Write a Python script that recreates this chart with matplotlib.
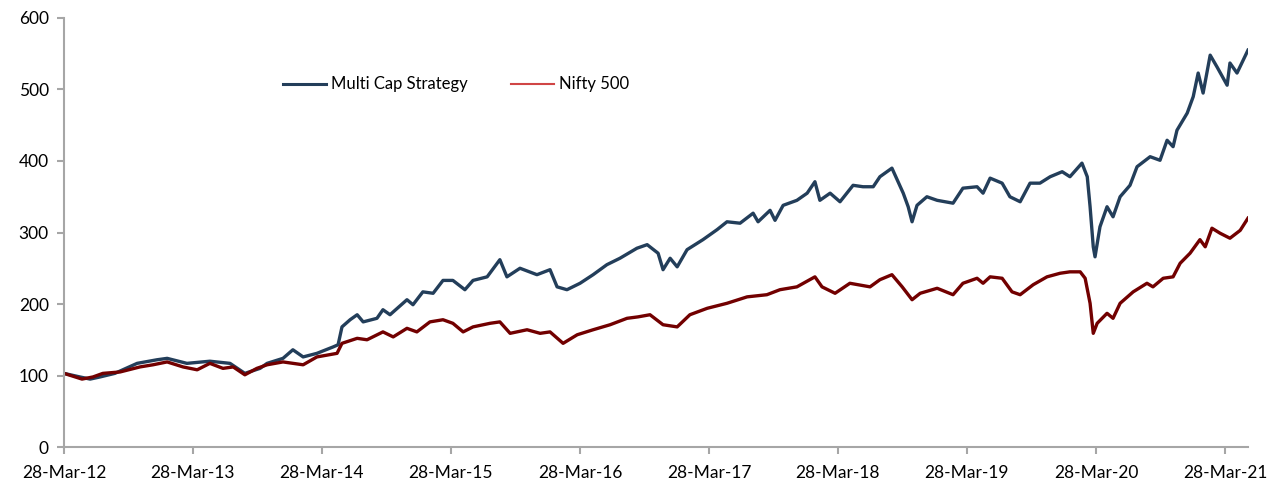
import matplotlib
matplotlib.use('Agg')
import matplotlib.pyplot as plt
import matplotlib.dates as mdates
from matplotlib.lines import Line2D
import pandas as pd

#Here we set the style of the plots
plt.rc('font', family=['Lato', 'DejaVu Sans'])
plt.rc('xtick', labelsize=12.5)
plt.rc('ytick', labelsize=12.5)

#Multi Cap Strategy
mc_dates = ['2012-03-28', '2012-05-12', '2012-06-10', '2012-07-08', '2012-08-19', '2012-10-21',
            '2012-12-16', '2013-01-14', '2013-03-11', '2013-05-15', '2013-07-11', '2013-08-22',
            '2013-10-04', '2013-10-24', '2013-12-08', '2014-01-05', '2014-02-03', '2014-03-14',
            '2014-04-29', '2014-05-13', '2014-05-24', '2014-06-16', '2014-07-06', '2014-07-23',
            '2014-08-31', '2014-09-17', '2014-10-07', '2014-11-24', '2014-12-11', '2015-01-08',
            '2015-02-06', '2015-03-06', '2015-04-03', '2015-05-07', '2015-05-30', '2015-07-09',
            '2015-08-14', '2015-09-03', '2015-10-10', '2015-11-27', '2016-01-03', '2016-01-23',
            '2016-02-20', '2016-03-28', '2016-05-04', '2016-06-12', '2016-07-19', '2016-09-05',
            '2016-10-04', '2016-11-04', '2016-11-18', '2016-12-08', '2016-12-28', '2017-01-25',
            '2017-03-11', '2017-04-20', '2017-05-18', '2017-06-24', '2017-07-31', '2017-08-14',
            '2017-09-17', '2017-10-01', '2017-10-24', '2017-12-02', '2017-12-31', '2018-01-22',
            '2018-02-05', '2018-03-06', '2018-04-03', '2018-05-10', '2018-06-07', '2018-07-06',
            '2018-07-25', '2018-08-28', '2018-09-29', '2018-10-13', '2018-10-24', '2018-11-07',
            '2018-12-05', '2019-01-03', '2019-02-17', '2019-03-17', '2019-04-26', '2019-05-13',
            '2019-06-02', '2019-07-06', '2019-07-28', '2019-08-26', '2019-09-23', '2019-10-21',
            '2019-11-19', '2019-12-23', '2020-01-14', '2020-02-17', '2020-03-03', '2020-03-11',
            '2020-03-20', '2020-03-25', '2020-04-08', '2020-04-28', '2020-05-15', '2020-06-04',
            '2020-07-02', '2020-07-22', '2020-08-28', '2020-09-25', '2020-10-15', '2020-11-01',
            '2020-11-12', '2020-12-11', '2020-12-28', '2021-01-11', '2021-01-25', '2021-02-14',
            '2021-03-06', '2021-04-03', '2021-04-11', '2021-05-01', '2021-06-01']
mc_values = [103, 98, 95, 98, 103, 117,
             122, 124, 117, 120, 117, 103,
             110, 117, 124, 136, 126, 131,
             140, 143, 168, 178, 185, 175,
             180, 192, 185, 206, 199, 217,
             215, 233, 233, 220, 233, 238,
             262, 238, 250, 241, 248, 224,
             220, 229, 241, 255, 264, 278,
             283, 271, 248, 264, 252, 276,
             290, 304, 315, 313, 327, 315,
             331, 317, 338, 345, 355, 371,
             345, 355, 343, 366, 364, 364,
             378, 390, 355, 336, 315, 338,
             350, 345, 341, 362, 364, 355,
             376, 369, 350, 343, 369, 369,
             378, 385, 378, 397, 378, 336,
             280, 266, 308, 336, 322, 350,
             366, 392, 406, 401, 429, 420,
             443, 467, 490, 523, 495, 548,
             531, 506, 537, 523, 555]

#Nifty 500, values
nifty_dates = ['2012-03-28', '2012-05-18', '2012-06-18', '2012-07-16', '2012-09-03', '2012-10-29',
               '2012-12-05', '2013-01-14', '2013-02-28', '2013-04-09', '2013-05-15', '2013-06-21',
               '2013-07-20', '2013-08-22', '2013-09-25', '2013-10-24', '2013-12-08', '2014-02-03',
               '2014-03-14', '2014-05-10', '2014-05-24', '2014-07-06', '2014-08-03', '2014-09-17',
               '2014-10-16', '2014-11-24', '2014-12-22', '2015-01-28', '2015-03-06', '2015-04-03',
               '2015-05-02', '2015-05-30', '2015-07-17', '2015-08-14', '2015-09-12', '2015-10-30',
               '2015-12-06', '2016-01-03', '2016-02-09', '2016-03-20', '2016-05-04', '2016-06-21',
               '2016-08-08', '2016-09-08', '2016-10-12', '2016-11-18', '2016-12-28', '2017-02-02',
               '2017-03-23', '2017-05-18', '2017-07-14', '2017-09-08', '2017-10-15', '2017-12-02',
               '2018-01-22', '2018-02-11', '2018-03-20', '2018-05-01', '2018-06-27', '2018-07-25',
               '2018-08-28', '2018-09-26', '2018-10-24', '2018-11-16', '2019-01-03', '2019-02-17',
               '2019-03-17', '2019-04-26', '2019-05-13', '2019-06-02', '2019-07-06', '2019-08-03',
               '2019-08-26', '2019-10-02', '2019-11-10', '2019-12-17', '2020-01-14', '2020-02-12',
               '2020-02-26', '2020-03-11', '2020-03-20', '2020-03-31', '2020-04-28', '2020-05-15',
               '2020-06-04', '2020-07-11', '2020-08-19', '2020-09-05', '2020-10-04', '2020-11-01',
               '2020-11-21', '2020-12-19', '2021-01-16', '2021-01-31', '2021-02-19', '2021-03-14',
               '2021-04-11', '2021-05-10', '2021-06-01']
nifty_values = [103, 95, 98, 103, 105, 112,
                115, 119, 112, 108, 117, 110,
                112, 101, 110, 115, 119, 115,
                126, 131, 145, 152, 150, 161,
                154, 166, 161, 175, 178, 173,
                161, 168, 173, 175, 159, 164,
                159, 161, 145, 157, 164, 171,
                180, 182, 185, 171, 168, 185,
                194, 201, 210, 213, 220, 224,
                238, 224, 215, 229, 224, 234,
                241, 224, 206, 215, 222, 213,
                229, 236, 229, 238, 236, 217,
                213, 227, 238, 243, 245, 245,
                236, 201, 159, 173, 187, 180,
                201, 217, 229, 224, 236, 238,
                257, 271, 290, 280, 306, 299,
                292, 303, 320]

tick_dates = ['2012-03-28', '2013-03-28', '2014-03-28', '2015-03-28', '2016-03-28',
              '2017-03-28', '2018-03-28', '2019-03-28', '2020-03-28', '2021-03-28']

mc = pd.Series(mc_values, index=pd.to_datetime(mc_dates))
nifty = pd.Series(nifty_values, index=pd.to_datetime(nifty_dates))

fig = plt.figure(figsize=(12.75, 4.86), dpi=100)
ax = fig.add_axes([0.0502, 0.0802, 0.9286, 0.8828])

ax.plot(mc.index, mc.values, color='#233e5a', lw=2.4)
ax.plot(nifty.index, nifty.values, color='#720000', lw=2.4)

#axes formatting, Excel-like
ax.set_ylim(0, 600)
ax.set_yticks(range(0, 601, 100))
ax.set_xlim(pd.Timestamp('2012-03-28'), pd.Timestamp('2021-06-01'))
ax.set_xticks(pd.to_datetime(tick_dates))
ax.xaxis.set_major_formatter(mdates.DateFormatter('%d-%b-%y'))
for s in ['top', 'right']:
    ax.spines[s].set_visible(False)
for s in ['left', 'bottom']:
    ax.spines[s].set_color('#a6a6a6')
    ax.spines[s].set_linewidth(1.5)
ax.tick_params(axis='both', color='#a6a6a6', width=1.5, length=5)
ax.tick_params(axis='x', pad=8)
ax.tick_params(axis='y', pad=6)

#legend (Excel shows a lighter red swatch for the index)
handles = [Line2D([], [], color='#233e5a', lw=2.2),
           Line2D([], [], color='#d04545', lw=1.5)]
ax.legend(handles, ['Multi Cap Strategy', 'Nifty 500'], ncol=2, frameon=False,
          loc='center left', bbox_to_anchor=(0.172, 0.845), fontsize=12,
          handlelength=2.6, handletextpad=0.3, columnspacing=2.6)

plt.savefig('out.png', dpi=100)
